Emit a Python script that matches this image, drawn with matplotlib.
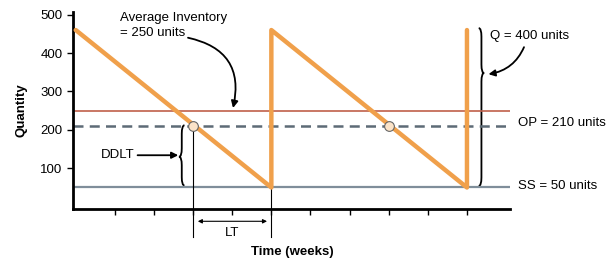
import numpy as np
import matplotlib
matplotlib.use("Agg")
from matplotlib import pyplot as plt
from matplotlib.path import Path
from matplotlib.patches import PathPatch

plt.rcParams['font.family'] = ['Liberation Sans', 'DejaVu Sans']

# inventory sawtooth (weeks, units)
weeks = [0, 5, 5, 10, 10]
stock = [460, 50, 460, 50, 460]
avg_inv = 250
order_point = 210
safety_stock = 50
reorder_weeks = [3, 8]
y_ticks = [100, 200, 300, 400, 500]
x_ticks = list(range(1, 11))

orange = '#f0a04b'

def brace(ax, x, y0, y1, ytip, w, r):
    """curly brace from y0 (bottom) to y1 (top), tip at ytip, w>0 points right"""
    xm = x + w / 2
    verts = [(x, y1), (xm, y1), (xm, y1 - r),
             (xm, ytip + r), (xm, ytip), (x + w, ytip),
             (xm, ytip), (xm, ytip - r),
             (xm, y0 + r), (xm, y0), (x, y0)]
    codes = [Path.MOVETO, Path.CURVE3, Path.CURVE3,
             Path.LINETO, Path.CURVE3, Path.CURVE3,
             Path.CURVE3, Path.CURVE3,
             Path.LINETO, Path.CURVE3, Path.CURVE3]
    ax.add_patch(PathPatch(Path(verts, codes), fill=False, lw=1.3,
                           color='black', clip_on=False))

fig = plt.figure(figsize=(6.06, 2.6), dpi=100)
ax = fig.add_axes([73/606, 1-209/260, 437/606, 197/260])
ax.set_xlim(-0.07, 11.1)
ax.set_ylim(-6, 507)

ax.axhline(avg_inv, color='#c0604a', lw=1.2)
ax.axhline(order_point, color='#5d6b76', lw=1.8, ls=(0, (4, 2.5)))
ax.axhline(safety_stock, color='#7f8e9a', lw=1.6)

# lead time markers
ax.plot([3, 3], [order_point, -79], color='black', lw=0.8, clip_on=False)
ax.plot([5, 5], [safety_stock, -79], color='black', lw=0.8, clip_on=False)

ax.plot(weeks, stock, color=orange, lw=3.2, solid_capstyle='round', zorder=3)
ax.plot(reorder_weeks, [order_point] * 2, 'o', ms=7, mfc='#fbe3c8',
        mec='#666666', mew=0.8, zorder=4)

ax.set_yticks(y_ticks)
ax.set_xticks(x_ticks)
ax.set_xticklabels([])
ax.tick_params(axis='both', direction='out', length=4, width=1, labelsize=9.5)
for s in ['top', 'right']:
    ax.spines[s].set_visible(False)
for s in ['left', 'bottom']:
    ax.spines[s].set_linewidth(2)
ax.set_ylabel('Quantity', fontsize=9.5, fontweight='bold', labelpad=9)
ax.set_xlabel('Time (weeks)', fontsize=9.5, fontweight='bold')
ax.xaxis.set_label_coords(0.501, -0.19)

# annotations
ax.text(1.13, 472, 'Average Inventory\n= 250 units', fontsize=9.5,
        va='center', ha='left', linespacing=1.35)
ax.annotate('', xy=(4.02, 257), xytext=(2.87, 440),
            arrowprops=dict(arrowstyle='-|>', color='black', lw=1.3,
                            connectionstyle='arc3,rad=-0.5', shrinkA=0, shrinkB=0))
ax.annotate('Q = 400 units', xy=(10.55, 345), xytext=(10.6, 445), fontsize=9.5,
            va='center', ha='left', annotation_clip=False,
            arrowprops=dict(arrowstyle='-|>', color='black', lw=1.3,
                            connectionstyle='arc3,rad=-0.3', shrinkA=2, shrinkB=0,
                            relpos=(0.45, 0.0)))
ax.annotate('DDLT', xy=(2.62, 134), xytext=(1.08, 134), fontsize=9.5,
            va='center', ha='center',
            arrowprops=dict(arrowstyle='-|>', color='black', lw=1.3,
                            shrinkA=0, shrinkB=0))
ax.annotate('', xy=(3.12, -38), xytext=(4.89, -38), annotation_clip=False,
            arrowprops=dict(arrowstyle='<|-|>', color='black', lw=0.8,
                            mutation_scale=6, shrinkA=0, shrinkB=0))
ax.text(4.0, -69, 'LT', fontsize=9.5, ha='center', va='center')
ax.text(11.3, 219, 'OP = 210 units', fontsize=9.5, va='center', clip_on=False)
ax.text(11.3, 53, 'SS = 50 units', fontsize=9.5, va='center', clip_on=False)

brace(ax, 2.78, 55, 212, 130, -0.14, 22)
brace(ax, 10.3, 54, 465, 348, 0.14, 22)

fig.savefig('out.png', dpi=100)
